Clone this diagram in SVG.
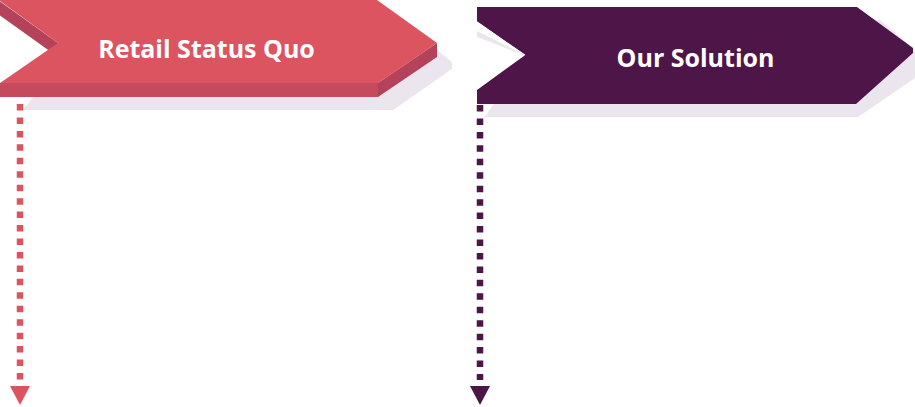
<svg xmlns="http://www.w3.org/2000/svg" width="915" height="407" viewBox="0 0 915 407">
  <style>
    .shadow { fill: #ebe6ee; }
    .red-top { fill: #dc5460; }
    .red-side { fill: #b3425a; }
    .red-front { fill: #c44b5b; }
    .purple { fill: #4e1549; }
    .label { font-family: "Open Sans", "Liberation Sans", sans-serif; font-weight: 700; font-size: 25px; fill: #ffffff; text-anchor: middle; }
    .dash-red { stroke: #dc5460; stroke-width: 6.5; stroke-dasharray: 6.5 6.95; fill: none; }
    .dash-purple { stroke: #4e1549; stroke-width: 6.5; stroke-dasharray: 6.5 6.95; fill: none; }
  </style>
  <rect width="915" height="407" fill="#ffffff"/>

  <g id="node-retail-status-quo">
    <polygon class="shadow" points="62,50 62,20 400,20 452,62 452,69 393,110 23,110 33,97 62,70"/>
    <polygon class="red-side" points="-2,0 58,43 58,57 -2,14"/>
    <polygon class="red-side" points="437,43 437,57 378,97 378,83"/>
    <rect class="red-front" x="0" y="83" width="378" height="14"/>
    <polygon class="red-top" points="0,0 377,0 437,43 378,83 0,83 58,43 0,1"/>
    <text class="label" x="206.5" y="58">Retail Status Quo</text>
  </g>

  <g id="node-our-solution">
    <polygon class="shadow" points="540,60 540,20 880,20 915,50 915,78 858,117 485,117 493,105"/>
    <polygon class="shadow" points="477,31 529,57 477,37"/>
    <polygon class="purple" points="477,7 857,7 913,48 913,53 856,104 477,104 477,90 535,48 526,55 477,21"/>
    <polygon class="purple" points="477,7 535,48 526,55 477,21"/>
    <text class="label" x="695.5" y="67">Our Solution</text>
  </g>

  <g id="connectors">
    <line class="dash-red" x1="20" y1="104" x2="20" y2="380"/>
    <polygon fill="#dc5460" points="10,386 30,386 20,405"/>
    <line class="dash-purple" x1="480" y1="105" x2="480" y2="380"/>
    <polygon fill="#4e1549" points="470,386 490,386 480,405"/>
  </g>
</svg>
